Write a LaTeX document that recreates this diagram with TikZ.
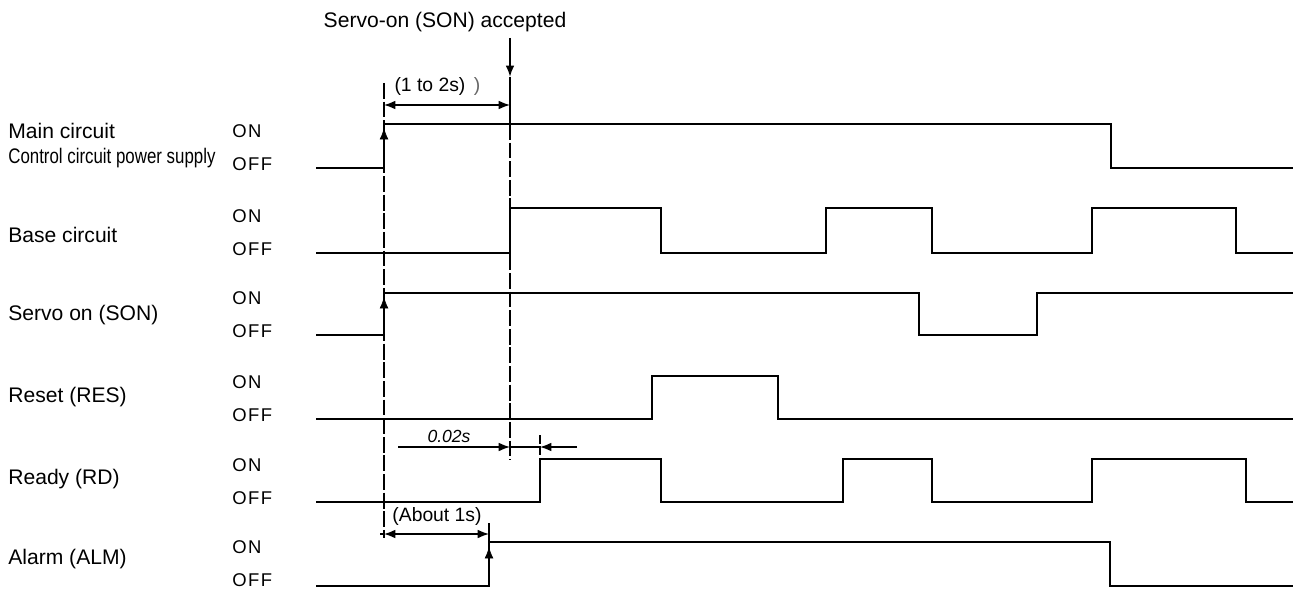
\documentclass[tikz,border=0pt]{standalone}
\usepackage{fontspec}
\setmainfont{Liberation Sans}
\newfontfamily\onofffont[LetterSpace=8]{Liberation Sans}
\usepackage{graphicx}
\usetikzlibrary{
	arrows.meta,
	positioning,
	calc
}

\begin{document}
\begin{tikzpicture}[
			x=0.02cm, y=-0.02cm,
			>={Latex[length=6.5pt,width=5pt]},
			every node/.style={inner sep=0pt,font=\fontsize{12}{14}\selectfont},
			wave/.style={line width=1.1pt},
			marker/.style={line width=1.1pt,dash pattern=on 9pt off 1.6pt},
			dim/.style={line width=0.8pt},
			state/.style={anchor=west,font=\onofffont\fontsize{10.5}{12}\selectfont},
			signal/.style={anchor=west},
			note/.style={font=\fontsize{11}{13}\selectfont}
			]
			\useasboundingbox (0,0) rectangle (1293,588);
			
			% Signal names
			\node[signal] (main) at (8,131){Main circuit};
			\node[signal] (ctrl) at (8,158){\scalebox{0.8}[1]{Control circuit power supply}};
			\node[signal] (base) at (8,235){Base circuit};
			\node[signal] (son) at (8,315){Servo on (SON)};
			\node[signal] (res) at (8,397){Reset (RES)};
			\node[signal] (rd) at (8,479){Ready (RD)};
			\node[signal] (alm) at (8,559){Alarm (ALM)};
			
			% ON / OFF levels
			\foreach \r/\off in {1/168,2/253,3/335,4/419,5/502,6/584}
			{
				\node[state] (on\r) at (232,\off-37){ON};
				\node[state] (off\r) at (232,\off-4){OFF};
			}
			
			% Waveforms
			\draw[wave] (316,168) -| (384,124) -| (1111,168) -- (1293,168);
			\draw[wave] (316,253) -| (510,208) -| (661,253) -| (826,208) -| (932,253) -| (1092,208) -| (1236,253) -- (1293,253);
			\draw[wave] (316,335) -| (384,293) -| (919,335) -| (1037,293) -- (1293,293);
			\draw[wave] (316,419) -| (652,376) -| (778,419) -- (1293,419);
			\draw[wave] (316,502) -| (540,459) -| (661,502) -| (843,459) -| (932,502) -| (1092,459) -| (1246,502) -- (1293,502);
			\draw[wave] (316,586) -| (489,542) -| (1110,586) -- (1293,586);
			
			% Power-on marker
			\coordinate (pwtop) at (384,83);
			\coordinate (pwbot) at (384,538);
			\draw[marker] (pwtop) -- (pwbot);
			\draw[->] (384,155) -- (384,128);
			\draw[->] (384,322) -- (384,297);
			
			% Servo-on accepted
			\node (acc) at (445,22){Servo-on (SON) accepted};
			\coordinate (acctop) at (510,38);
			\coordinate (acctip) at (510,77);
			\coordinate (accmid) at (510,124);
			\coordinate (accbot) at (510,460);
			\draw[wave,->] (acctop) -- (acctip);
			\draw[wave] (acctip) -- (accmid);
			\draw[marker] (accmid) -- (accbot);
			
			% (1 to 2s)
			\coordinate (d1a) at (384,105);
			\coordinate (d1b) at (510,105);
			\draw[dim,<->] (d1a) -- (d1b);
			\node[note] (d1lbl) at (430,86){(1 to 2s)};
			\node[note,text=black!60] (d1par) at (477,86){)};
			
			% 0.02s
			\coordinate (d2a) at (398,447);
			\coordinate (d2b) at (510,447);
			\coordinate (d2c) at (540,447);
			\coordinate (d2d) at (577,447);
			\coordinate (d2tick) at (540,435);
			\coordinate (rdup) at (540,459);
			\draw[dim,->] (d2a) -- (d2b);
			\draw[dim] (d2b) -- (d2c);
			\draw[dim,->] (d2d) -- (d2c);
			\draw[dim,dash pattern=on 5pt off 1.5pt] (d2tick) -- (rdup);
			\node[font=\itshape\fontsize{10}{12}\selectfont] (d2lbl) at (449,436){0.02s};
			
			% (About 1s)
			\coordinate (d3l) at (380,534);
			\coordinate (d3a) at (384,534);
			\coordinate (d3b) at (489,534);
			\coordinate (d3top) at (489,523);
			\coordinate (almup) at (489,542);
			\draw[dim] (d3l) -- (d3a);
			\draw[dim,<->] (d3a) -- (d3b);
			\draw[wave] (d3top) -- (almup);
			\draw[->] (489,572) -- (489,547);
			\node[note] (d3lbl) at (437,516){(About 1s)};
			
		\end{tikzpicture}
\end{document}
